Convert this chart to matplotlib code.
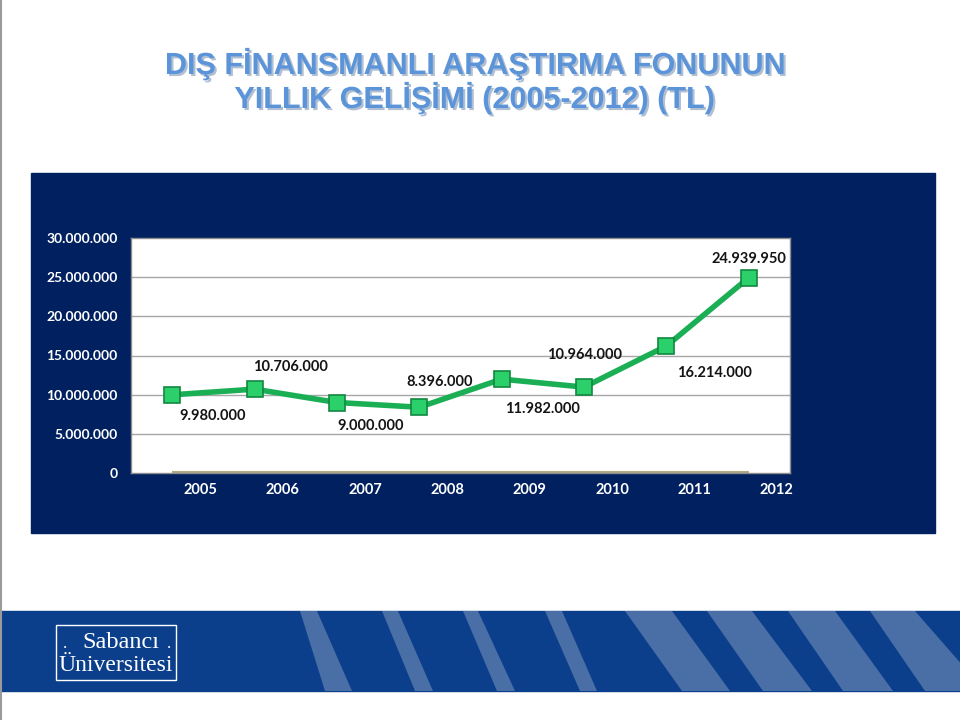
import matplotlib
matplotlib.use("Agg")
import matplotlib.pyplot as plt
import matplotlib.patheffects as pe
from matplotlib.patches import Rectangle, Polygon
from matplotlib.transforms import ScaledTranslation

# data
years = ['2005', '2006', '2007', '2008', '2009', '2010', '2011', '2012']
values = [9980000, 10706000, 9000000, 8396000, 11982000, 10964000, 16214000, 24939950]
yticks = [0, 5000000, 10000000, 15000000, 20000000, 25000000, 30000000]

title_lines = ['DIŞ FİNANSMANLI ARAŞTIRMA FONUNUN', 'YILLIK GELİŞİMİ (2005-2012) (TL)']

# label offsets in pixels (dx, dy down)
label_offsets = [(40, 21), (36, -22), (34, 23), (20, -25), (41, 30), (0, -32), (48, 27), (0, -19)]

NAVY = '#002060'
GREEN = '#1BAF55'


def tr(v):
    # 10000000 -> 10.000.000
    return f'{v:,}'.replace(',', '.')


fig = plt.figure(figsize=(9.6, 7.2), dpi=100)
fig.patch.set_facecolor('white')

# slide decoration in pixel coordinates
bg = fig.add_axes([0, 0, 1, 1])
bg.set_xlim(0, 960)
bg.set_ylim(720, 0)
bg.axis('off')

bg.add_patch(Rectangle((31, 173), 904, 360, color=NAVY))
bg.plot([1, 1], [0, 720], color='#9a9a9a', lw=1.5)

# banner with stripes
bg.add_patch(Rectangle((0, 611), 960, 80, color='#0B3F8C'))
stripes = [((300, 317), (325, 352)), ((382, 398), (415, 433)), ((463, 478), (497, 515)),
           ((545, 562), (580, 597)), ((625, 672), (682, 730)), ((707, 752), (763, 812)),
           ((788, 835), (843, 893)), ((870, 915), (925, 985))]
for (t0, t1), (b0, b1) in stripes:
    bg.add_patch(Polygon([(t0, 611), (t1, 611), (b1, 691), (b0, 691)],
                         closed=True, color='#4A6EA6', lw=0))
bg.set_xlim(0, 960)

# logo
bg.add_patch(Rectangle((56, 625), 120, 55, fill=False, ec='white', lw=1))
bg.text(121, 648, 'Sabancı', color='white', family='Liberation Serif',
        fontsize=17.5, ha='center', va='baseline')
bg.text(65, 648, '.', color='white', family='Liberation Serif', fontsize=12, ha='center', va='baseline')
bg.text(169, 648, '.', color='white', family='Liberation Serif', fontsize=12, ha='center', va='baseline')
bg.text(116, 671, 'Üniversitesi', color='white', family='Liberation Serif',
        fontsize=17, ha='center', va='baseline')

# title
shadow = [pe.SimplePatchShadow(offset=(1.5, -1.5), shadow_rgbFace='#3a5f90', alpha=0.4), pe.Normal()]
for i, line in enumerate(title_lines):
    bg.text(474, 74 + i * 34, line, color='#5B94D8', family='Liberation Sans',
            fontweight='bold', fontsize=22, ha='center', va='baseline', path_effects=shadow)

# chart area
L, R, T, B = 131, 790, 238, 473
ax = fig.add_axes([L / 960, (720 - B) / 720, (R - L) / 960, (B - T) / 720])
ax.set_facecolor('white')
x = list(range(len(years)))

ax.set_xlim(-0.5, len(years) - 0.5)
ax.set_ylim(yticks[0], yticks[-1])
ax.set_yticks(yticks)
ax.set_yticklabels([tr(v) for v in yticks])
ax.set_xticks(x)
ax.set_xticklabels(years)

for v in yticks[1:-1]:
    ax.axhline(v, color='#A6A6A6', lw=1, zorder=1)
ax.hlines(0, x[0], x[-1], color='#B5AA86', lw=3, zorder=2)

ax.plot(x, values, color=GREEN, lw=4, zorder=3,
        marker='s', markersize=11, markerfacecolor='#2BD06A', markeredgecolor='#12873F',
        markeredgewidth=1.2)

for xi, v, (dx, dy) in zip(x, values, label_offsets):
    ax.annotate(tr(v), (xi, v), xytext=(dx * 0.72, -dy * 0.72), textcoords='offset points',
                ha='center', va='center', family='Lato', fontweight='bold',
                fontsize=10.5, color='#141414', zorder=4)

for s in ax.spines.values():
    s.set_color('#8C8C8C')
    s.set_linewidth(1)

ax.tick_params(length=0)
ax.tick_params(axis='y', pad=9.5, labelcolor='white', labelsize=10)
ax.tick_params(axis='x', pad=7, labelcolor='white', labelsize=10.5)
for lab in ax.get_yticklabels() + ax.get_xticklabels():
    lab.set_family('Lato')
    lab.set_fontweight('bold')
shift = ScaledTranslation(28 / 100, 0, fig.dpi_scale_trans)
for lab in ax.get_xticklabels():
    lab.set_transform(lab.get_transform() + shift)

fig.savefig('out.png', dpi=100)
